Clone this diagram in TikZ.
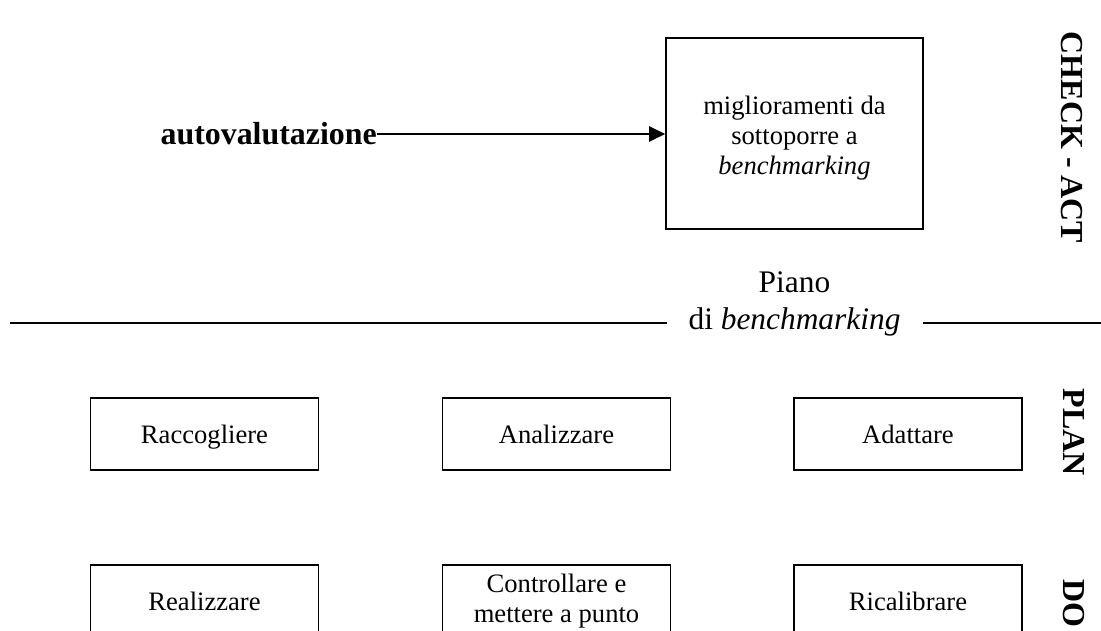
\documentclass[tikz,border=0pt]{standalone}
\usepackage{fontspec}
\setmainfont{Liberation Serif}
\usetikzlibrary{arrows.meta}
\begin{document}
\begin{tikzpicture}[x=1pt,y=-1pt,
  box/.style={draw,line width=1.5pt,minimum width=228pt,minimum height=72pt,inner sep=0pt,
    font=\fontsize{26.6}{30}\selectfont,align=center},
  onebox/.style={box,text height=18.5pt,text depth=0pt},
  side/.style={rotate=-90,font=\fontsize{32}{36}\selectfont\bfseries,inner sep=0pt},
  rule/.style={line width=1.6pt}]
\useasboundingbox (0,0) rectangle (1101,631);
\begin{scope}
\clip (0,0) rectangle (1101,631);
% top section
\node[draw,line width=1.6pt,minimum width=257pt,minimum height=191pt,inner sep=0pt] (imp) at (794.5,133.5) {};
\node[inner sep=0pt,font=\fontsize{26.6}{30}\selectfont,align=center] (imptxt) at ([yshift=-5pt]imp.center)
  {miglioramenti da\\sottoporre a\\\textit{benchmarking}};
\node[anchor=east,inner sep=0pt,font=\fontsize{31.9}{36}\selectfont\bfseries] (auto) at (377,134) {autovalutazione};
\draw[line width=2.4pt,-{Triangle[length=16pt,width=15pt]}] (auto.east) -- (auto.east -| imp.west);
\node[side] (ca) at (1072,137.5) {CHECK - ACT};
% separator
\node[anchor=base,inner sep=0pt,font=\fontsize{31.4}{36}\selectfont] (piano) at (794.5,293) {Piano};
\node[anchor=base,inner sep=0pt,font=\fontsize{31.4}{36}\selectfont] (dib) at (794.5,330) {di \textit{benchmarking}};
\coordinate (l1) at (10,323);
\coordinate (l2) at (667,323);
\coordinate (r1) at (923,323);
\coordinate (r2) at (1101,323);
\draw[rule] (l1) -- (l2);
\draw[rule] (r1) -- (r2);
% PLAN row
\node[onebox] (racc) at (204.5,434) {Raccogliere};
\node[onebox] (anal) at (556.5,434) {Analizzare};
\node[onebox] (adat) at (908,434) {Adattare};
\node[side] (plan) at (1074,432.5) {PLAN};
% DO row
\node[onebox] (real) at (204.5,601) {Realizzare};
\node[box] (cont) at (556.5,601) {Controllare e\\mettere a punto};
\node[onebox] (rical) at (908,601) {Ricalibrare};
\node[side] (do) at (1074,603) {DO};
\end{scope}
\end{tikzpicture}
\end{document}
